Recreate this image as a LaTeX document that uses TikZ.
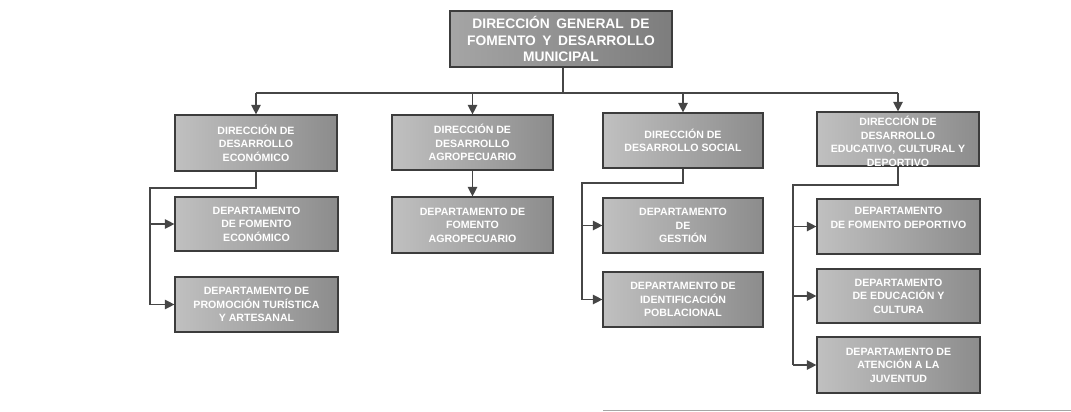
\documentclass[tikz,border=0pt]{standalone}
\usepackage{fontspec}
\setmainfont{Liberation Sans}
\usetikzlibrary{arrows.meta,calc}
\definecolor{boxL}{RGB}{192,192,192}
\definecolor{boxR}{RGB}{140,140,140}
\definecolor{topL}{RGB}{165,165,165}
\definecolor{topR}{RGB}{125,125,125}
\definecolor{edge}{RGB}{60,60,60}
\definecolor{wire}{RGB}{70,70,70}
\newcommand\wsp{\hspace{6.5pt}}
\tikzset{
  unit/.style={draw=edge, line width=1.2pt, left color=boxL, right color=boxR,
    text=white, font=\fontsize{10.6}{13.5}\selectfont\bfseries, align=center,
    inner sep=0pt, anchor=center},
  topunit/.style={unit, left color=topL, right color=topR,
    font=\fontsize{13.8}{16.5}\selectfont\bfseries},
  wireline/.style={draw=wire, line width=1.3pt},
  arr/.style={wireline, -{Triangle[length=9.5pt,width=9.5pt]}},
}
\begin{document}
\begin{tikzpicture}[x=1pt,y=-1pt]
\useasboundingbox (0,0) rectangle (1071,412);
% top
\node[topunit, minimum width=222pt, minimum height=56pt] (top) at (561,39)
  {DIRECCIÓN\wsp GENERAL\wsp DE\\FOMENTO\wsp Y\wsp DESARROLLO\\MUNICIPAL};
% directions
\node[unit, minimum width=162pt, minimum height=56pt] (d1) at (256,143)
  {DIRECCIÓN DE\\DESARROLLO\\ECONÓMICO};
\node[unit, minimum width=161pt, minimum height=55pt] (d2) at (472.5,142.5)
  {DIRECCIÓN DE\\DESARROLLO\\AGROPECUARIO};
\node[unit, minimum width=160pt, minimum height=55pt] (d3) at (683,140.5)
  {DIRECCIÓN DE\\DESARROLLO SOCIAL};
\node[unit, minimum width=162pt, minimum height=54pt] (d4) at (898,139) {};
\begin{scope}
  \clip (d4.north west) rectangle (d4.south east);
  \node[text=white, font=\fontsize{10.6}{13.5}\selectfont\bfseries, align=center,
    inner sep=0pt, anchor=north] (d4t) at ($(d4.north)+(0,5)$)
    {DIRECCIÓN DE\\DESARROLLO\\EDUCATIVO, CULTURAL Y\\DEPORTIVO};
\end{scope}
\draw[draw=edge, line width=1.2pt] (d4.north west) rectangle (d4.south east);
% departments
\node[unit, minimum width=163pt, minimum height=54pt] (s11) at (256.5,224)
  {DEPARTAMENTO\\DE FOMENTO\\ECONÓMICO};
\node[unit, minimum width=163pt, minimum height=55pt] (s12) at (256.5,304.5)
  {DEPARTAMENTO DE\\PROMOCIÓN TURÍSTICA\\Y ARTESANAL};
\node[unit, minimum width=161pt, minimum height=56pt] (s21) at (472.5,225)
  {DEPARTAMENTO DE\\FOMENTO\\AGROPECUARIO};
\node[unit, minimum width=160pt, minimum height=55pt] (s31) at (683,225.5)
  {DEPARTAMENTO\\DE\\GESTIÓN};
\node[unit, minimum width=160pt, minimum height=55pt] (s32) at (683,299.5)
  {DEPARTAMENTO DE\\IDENTIFICACIÓN\\POBLACIONAL};
\node[unit, minimum width=163pt, minimum height=55pt] (s41) at (898.5,226.5)
  {DEPARTAMENTO\\DE FOMENTO DEPORTIVO\\[4pt]};
\node[unit, minimum width=163pt, minimum height=54pt] (s42) at (898.5,296)
  {DEPARTAMENTO\\DE EDUCACIÓN Y\\CULTURA};
\node[unit, minimum width=163pt, minimum height=56pt] (s43) at (898.5,365)
  {DEPARTAMENTO DE\\ATENCIÓN A LA\\JUVENTUD};
% bus
\coordinate (busC) at (563,93);
\draw[wireline] (top.south -| busC) -- (busC);
\draw[wireline] (d1.north |- busC) -- (d4.north |- busC);
\foreach \d in {d1,d2,d3,d4}{
  \draw[arr] (\d.north |- busC) -- (\d.north);
}
% column 1
\coordinate (c1a) at (256,188);
\coordinate (c1b) at (150,188);
\draw[wireline] (d1.south) -- (c1a) -- (c1b) -- (c1b |- s12.west);
\draw[arr] (c1b |- s12.west) -- (s12.west);
\draw[arr] (c1b |- s11.west) -- (s11.west);
% column 2
\draw[arr] (d2.south) -- (s21.north);
% column 3
\coordinate (c3a) at (683,183);
\coordinate (c3b) at (582,183);
\draw[wireline] (d3.south) -- (c3a) -- (c3b) -- (c3b |- s32.west);
\draw[arr] (c3b |- s32.west) -- (s32.west);
\draw[arr] (c3b |- s31.west) -- (s31.west);
% column 4
\coordinate (c4a) at (898,185);
\coordinate (c4b) at (793,185);
\draw[wireline] (d4.south) -- (c4a) -- (c4b) -- (c4b |- s43.west);
\draw[arr] (c4b |- s43.west) -- (s43.west);
\draw[arr] (c4b |- s42.west) -- (s42.west);
\draw[arr] (c4b |- s41.west) -- (s41.west);
% page edge line
\coordinate (eL) at (603,410.5);
\coordinate (eR) at (1071,410.5);
\draw[draw=gray!70, line width=1pt] (eL) -- (eR);
\end{tikzpicture}
\end{document}
